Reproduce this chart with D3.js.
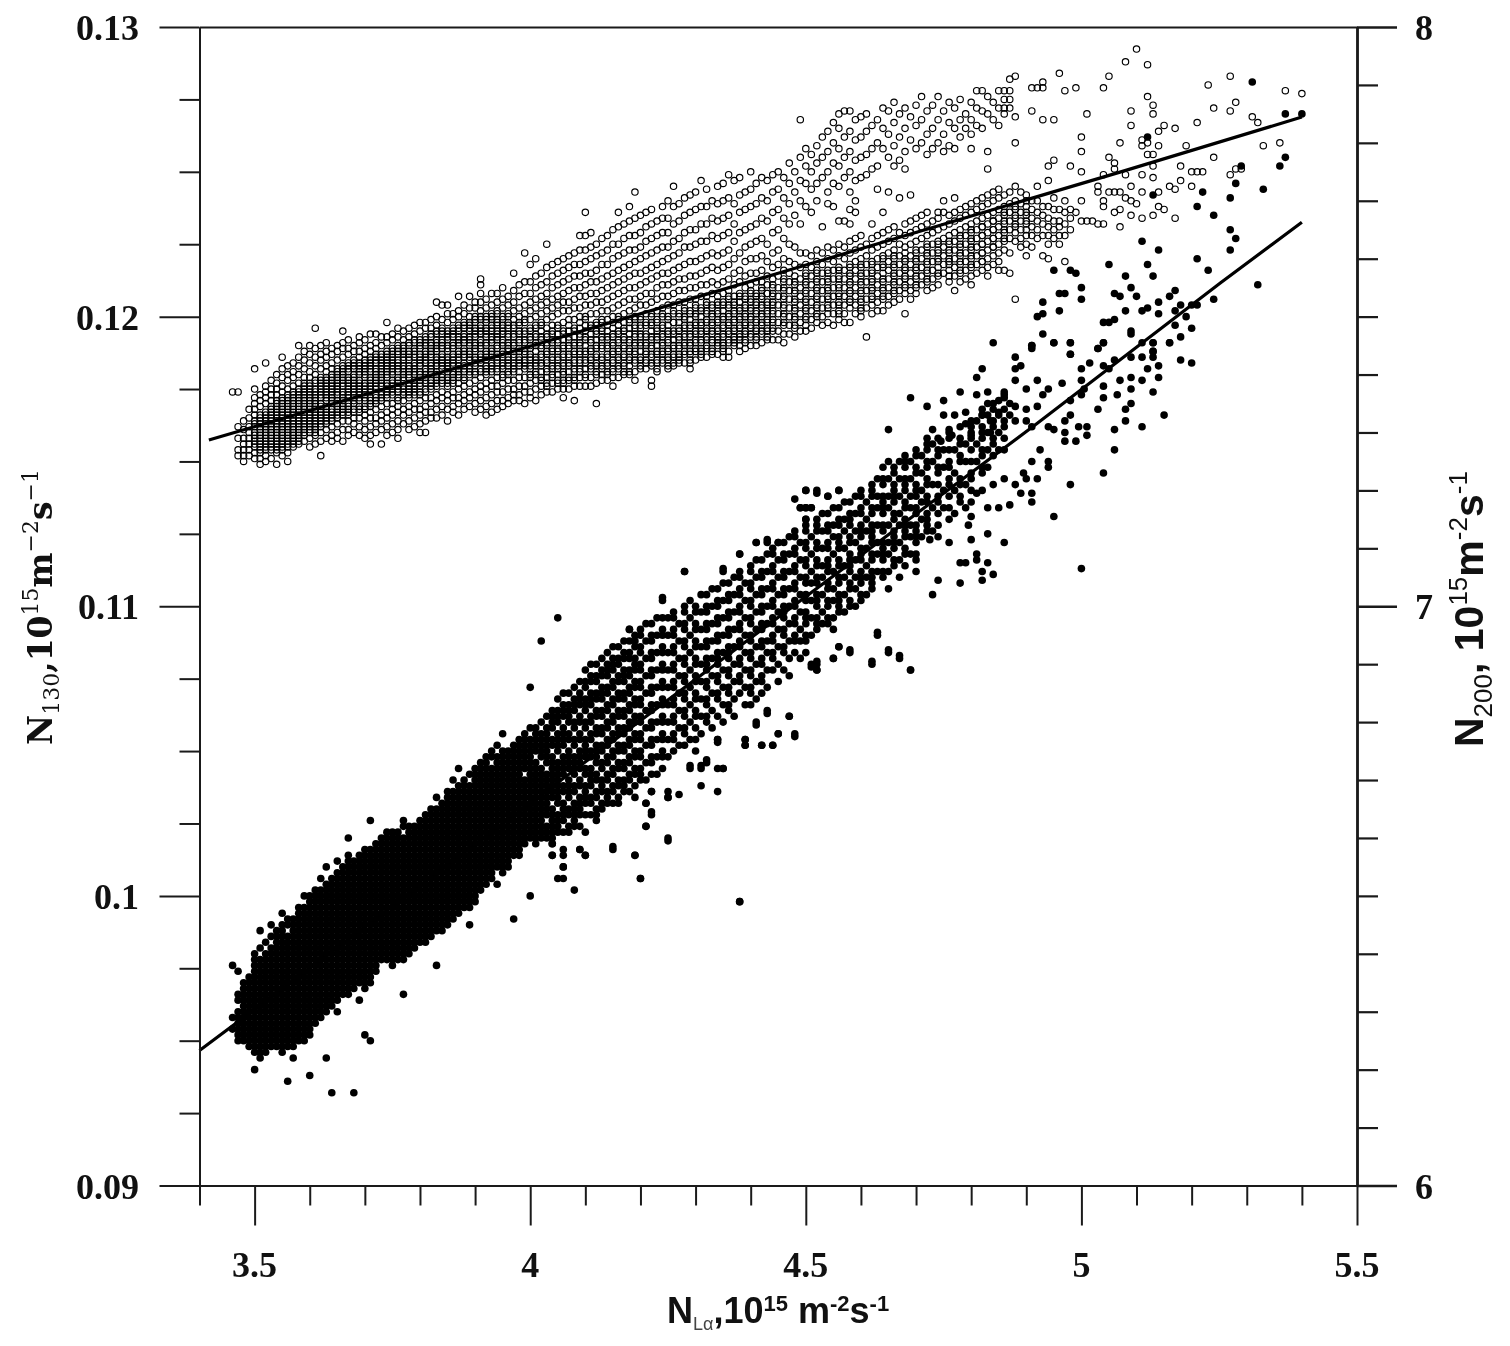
<!DOCTYPE html>
<html><head><meta charset="utf-8">
<script src="https://cdn.jsdelivr.net/npm/d3@7"></script>
<style>html,body{margin:0;background:#fff}svg{display:block;filter:blur(0.5px)}</style>
</head><body><svg id="c" width="1510" height="1346"></svg>
<script>
// N130 (left axis, open rings). Each row: first = N_Lalpha in 0.01, rest = N130 in 0.0001
const openRows35=[
[346,1174],[347,1174,1162,1158,1154,1152],[348,1164,1161,1158,1156,1154,1152,1150],[349,1168,1165,1162,1160,1158,1156,1154,1152],
[350,1182,1175,1172,1170,1168,1166,1164,1162,1160,1158,1157,1155,1153,1151],
[351,1173,1171,1169,1166,1164,1163,1161,1159,1158,1156,1155,1153,1151,1149],
[352,1184,1176,1174,1172,1170,1167,1165,1163,1162,1160,1159,1157,1156,1154,1152,1150],
[353,1178,1175,1173,1171,1168,1166,1165,1163,1161,1160,1158,1157,1155,1154,1151],
[354,1180,1177,1175,1173,1171,1169,1167,1165,1164,1162,1161,1159,1158,1156,1155,1153,1149],
[355,1186,1182,1179,1176,1174,1172,1170,1168,1166,1165,1163,1162,1160,1159,1157,1156,1154,1152],
[356,1183,1180,1178,1175,1173,1171,1169,1167,1166,1164,1163,1161,1160,1158,1157,1155,1153,1150],
[357,1184,1181,1179,1176,1174,1172,1170,1168,1167,1165,1164,1162,1161,1159,1157,1155],
[358,1190,1186,1183,1180,1177,1175,1173,1171,1169,1168,1166,1164,1163,1161,1160,1158,1156],
[359,1188,1185,1182,1179,1177,1175,1173,1171,1169,1167,1165,1163,1161,1159,1157],
[360,1190,1187,1184,1181,1179,1176,1174,1172,1170,1168,1166,1164,1162,1160,1158,1155],
[361,1196,1189,1186,1183,1180,1178,1175,1173,1171,1169,1167,1165,1163,1161,1159,1156],
[362,1190,1187,1185,1182,1179,1177,1175,1173,1170,1168,1166,1164,1162,1160,1157,1152],
[363,1191,1188,1186,1183,1181,1178,1176,1174,1172,1169,1167,1165,1163,1161,1158],
[364,1189,1187,1184,1182,1179,1177,1175,1173,1171,1168,1166,1164,1162,1159,1157],
[365,1190,1188,1185,1182,1180,1178,1176,1174,1171,1169,1167,1165,1163,1160,1158],
[366,1195,1191,1189,1186,1183,1181,1179,1177,1174,1172,1170,1168,1166,1164,1161,1157],
[367,1192,1189,1187,1184,1182,1179,1177,1175,1173,1170,1168,1166,1164,1161,1159],
[368,1190,1188,1185,1183,1180,1178,1176,1174,1172,1170,1167,1165,1163,1160],
[369,1193,1191,1188,1186,1183,1181,1178,1176,1174,1172,1169,1167,1165,1162,1159],
[370,1192,1189,1187,1184,1182,1180,1177,1175,1173,1171,1168,1166,1164,1161,1158],
[371,1194,1190,1188,1185,1183,1181,1178,1176,1174,1171,1169,1167,1165,1162,1159,1156],
[372,1194,1191,1189,1186,1184,1181,1179,1177,1175,1172,1170,1168,1165,1163,1160],
[373,1193,1190,1187,1185,1182,1180,1178,1176,1173,1171,1169,1166,1164,1161,1156],
[374,1198,1193,1191,1188,1186,1183,1181,1179,1176,1174,1172,1170,1167,1165,1162,1159],
[375,1194,1192,1189,1187,1184,1182,1180,1177,1175,1173,1170,1168,1166,1163,1160],
[376,1196,1193,1190,1188,1185,1183,1181,1178,1176,1174,1171,1169,1167,1164,1161,1158],
[377,1195,1192,1189,1187,1185,1182,1180,1178,1175,1173,1171,1168,1166,1163],
[378,1196,1193,1191,1188,1186,1183,1181,1179,1176,1174,1172,1169,1167,1164,1161],
[379,1197,1194,1192,1189,1187,1184,1182,1180,1177,1175,1173,1170,1168,1165,1162],
[380,1198,1195,1192,1190,1187,1185,1183,1180,1178,1176,1173,1171,1168,1166,1163,1160],
[381,1198,1196,1193,1191,1188,1186,1184,1181,1179,1177,1174,1172,1169,1167,1164,1160],
[382,1199,1196,1194,1191,1189,1187,1184,1182,1180,1177,1175,1172,1170,1167,1165],
[383,1205,1200,1197,1195,1192,1190,1188,1185,1183,1180,1178,1176,1173,1171,1168,1165],
[384,1204,1199,1196,1194,1191,1189,1186,1184,1182,1179,1177,1174,1172,1169,1166],
[385,1204,1201,1198,1195,1193,1190,1188,1185,1183,1181,1178,1176,1173,1171,1168,1164],
[386,1201,1199,1196,1194,1191,1189,1186,1184,1181,1179,1177,1174,1172,1169,1167],
[387,1207,1202,1200,1197,1195,1192,1190,1187,1185,1182,1180,1177,1175,1172,1170,1166],
[388,1204,1201,1198,1196,1193,1191,1188,1186,1183,1181,1178,1176,1173,1171,1168],
[389,1207,1203,1200,1197,1195,1192,1190,1187,1185,1182,1180,1177,1174,1172,1169],
[390,1205,1203,1200,1198,1195,1193,1190,1188,1185,1183,1180,1178,1175,1173,1170,1167],
[391,1213,1211,1208,1205,1202,1199,1196,1194,1191,1189,1186,1184,1181,1179,1176,1174,1171,1168],
[392,1206,1203,1200,1198,1195,1193,1190,1187,1185,1182,1180,1177,1175,1172,1169,1166],
[393,1208,1204,1201,1199,1196,1193,1191,1188,1186,1183,1181,1178,1176,1173,1170,1167],
[394,1208,1205,1202,1199,1197,1194,1192,1189,1186,1184,1181,1179,1176,1174,1171,1168],
[395,1210,1206,1203,1200,1197,1195,1192,1190,1187,1184,1182,1179,1177,1174,1171,1169]];
const openRows40=[
[396,1207,1204,1201,1198,1196,1193,1190,1188,1185,1183,1180,1178,1175,1172,1170],
[397,1215,1209,1205,1202,1199,1196,1194,1191,1188,1186,1183,1181,1178,1175,1173,1171],
[398,1211,1207,1203,1200,1197,1194,1191,1189,1186,1184,1181,1179,1176,1173,1171],
[399,1222,1212,1208,1204,1201,1198,1195,1192,1189,1187,1184,1182,1179,1176,1174,1170],
[400,1218,1212,1208,1205,1202,1199,1196,1193,1190,1187,1185,1182,1180,1177,1174,1172],
[401,1220,1214,1210,1206,1203,1200,1197,1194,1191,1188,1185,1183,1180,1178,1175,1171],
[402,1215,1211,1207,1204,1201,1198,1195,1192,1189,1186,1184,1181,1178,1176,1173],
[403,1225,1217,1212,1208,1205,1202,1199,1196,1193,1190,1187,1184,1182,1179,1176,1174],
[404,1218,1214,1210,1206,1203,1200,1197,1194,1191,1188,1185,1182,1180,1177,1174],
[405,1219,1215,1211,1207,1204,1201,1197,1194,1191,1188,1185,1183,1180,1177,1175],
[406,1220,1216,1212,1208,1205,1202,1198,1195,1192,1189,1186,1183,1181,1178,1175,1172],
[407,1221,1217,1213,1209,1205,1202,1199,1195,1192,1189,1186,1184,1181,1178,1175],
[408,1222,1218,1214,1210,1206,1203,1199,1196,1193,1190,1187,1184,1181,1179,1176,1171],
[409,1228,1223,1218,1214,1210,1207,1203,1200,1196,1193,1190,1187,1184,1182,1179,1176],
[410,1236,1228,1223,1219,1215,1211,1207,1204,1200,1197,1193,1190,1187,1185,1182,1179,1176],
[411,1229,1224,1220,1215,1212,1208,1204,1201,1197,1194,1191,1188,1185,1182,1179,1176],
[412,1225,1221,1216,1212,1208,1205,1201,1198,1195,1192,1189,1186,1183,1180,1177,1170],
[413,1227,1222,1218,1213,1209,1205,1202,1198,1195,1192,1189,1186,1183,1180,1178],
[414,1228,1223,1218,1214,1210,1206,1202,1199,1195,1192,1189,1187,1184,1181,1178],
[415,1230,1225,1220,1215,1211,1207,1203,1200,1196,1193,1190,1187,1184,1182,1179,1176],
[416,1236,1231,1225,1221,1216,1212,1208,1204,1200,1197,1194,1191,1188,1185,1182,1179],
[417,1232,1227,1222,1217,1213,1209,1205,1201,1198,1195,1192,1189,1186,1183,1180],
[418,1238,1233,1228,1223,1218,1214,1210,1206,1202,1199,1196,1192,1189,1186,1183,1180],
[419,1243,1234,1228,1223,1219,1215,1210,1206,1203,1199,1196,1193,1190,1187,1184,1181,1178],
[420,1235,1229,1224,1220,1215,1211,1207,1204,1200,1197,1194,1191,1188,1185,1182],
[421,1236,1231,1226,1221,1216,1212,1208,1204,1201,1198,1194,1191,1188,1185,1182],
[422,1237,1232,1227,1222,1217,1213,1208,1205,1201,1198,1195,1192,1189,1186,1183,1176,1178],
[423,1233,1228,1223,1218,1214,1210,1206,1202,1199,1196,1193,1190,1187,1184,1181],
[424,1238,1234,1229,1224,1219,1215,1211,1207,1203,1200,1196,1193,1190,1187,1184],
[425,1240,1234,1229,1224,1220,1215,1211,1207,1204,1200,1197,1194,1191,1188,1185,1182],
[426,1245,1238,1232,1226,1221,1216,1212,1208,1204,1201,1198,1195,1192,1189,1186,1183],
[427,1239,1233,1227,1222,1217,1213,1209,1205,1201,1198,1195,1192,1189,1186,1184],
[428,1241,1235,1229,1224,1218,1213,1209,1205,1202,1199,1196,1193,1190,1187,1184],
[429,1242,1236,1230,1224,1219,1214,1210,1206,1202,1199,1196,1193,1190,1187,1184,1182],
[430,1243,1237,1230,1225,1219,1214,1210,1206,1203,1200,1197,1194,1191,1188,1185],
[431,1247,1238,1232,1226,1220,1215,1211,1207,1203,1200,1197,1194,1191,1188,1186],
[432,1244,1238,1232,1226,1221,1216,1211,1207,1204,1201,1198,1195,1192,1189,1186],
[433,1240,1234,1228,1222,1217,1212,1208,1204,1201,1198,1195,1192,1189,1187],
[434,1245,1239,1233,1227,1221,1216,1211,1207,1204,1201,1198,1195,1192,1190,1187],
[435,1246,1240,1234,1228,1222,1217,1212,1208,1205,1202,1199,1196,1193,1190,1188,1186],
[436,1249,1241,1235,1229,1223,1218,1213,1209,1206,1203,1200,1197,1194,1191,1188,1186],
[437,1247,1239,1232,1226,1220,1215,1211,1207,1204,1201,1198,1195,1192,1190],
[438,1248,1242,1236,1229,1222,1216,1212,1208,1205,1202,1199,1196,1193,1190,1188],
[439,1243,1237,1230,1224,1219,1214,1210,1207,1204,1201,1198,1195,1192,1189],
[440,1250,1244,1238,1231,1225,1220,1215,1211,1208,1205,1202,1199,1196,1193,1190],
[441,1246,1239,1232,1226,1220,1215,1212,1208,1205,1202,1199,1196,1193,1190],
[442,1248,1241,1234,1227,1221,1216,1212,1209,1206,1203,1200,1197,1194,1191],
[443,1247,1240,1233,1225,1219,1214,1211,1208,1205,1202,1199,1196,1193],
[444,1249,1243,1236,1229,1222,1217,1213,1210,1207,1204,1201,1198,1195,1192],
[445,1250,1244,1237,1230,1223,1218,1214,1210,1207,1204,1201,1198,1195,1192],
[446,1248,1241,1234,1227,1220,1216,1212,1209,1206,1203,1200,1197,1194,1191],
[447,1253,1246,1239,1232,1225,1219,1215,1212,1209,1206,1203,1200,1197,1194],
[448,1250,1243,1235,1224,1218,1214,1211,1208,1205,1202,1199,1196,1193],
[449,1268,1255,1247,1240,1232,1222,1217,1213,1210,1207,1204,1201,1198,1195],
[450,1258,1252,1246,1238,1222,1218,1215,1212,1209,1206,1203,1200,1197,1195]];
const openRows45=[
[451,1256,1250,1244,1236,1221,1217,1214,1211,1208,1205,1202,1199,1196],
[452,1259,1253,1246,1240,1223,1219,1216,1213,1210,1207,1204,1201,1198],
[453,1262,1255,1248,1231,1222,1218,1215,1212,1209,1206,1203,1200,1197],
[454,1264,1257,1250,1243,1239,1224,1220,1216,1213,1210,1207,1204,1201,1198],
[455,1267,1260,1253,1246,1238,1223,1219,1216,1213,1210,1207,1204,1201,1197],
[456,1270,1265,1258,1252,1245,1233,1225,1221,1217,1214,1211,1208,1205,1202,1199],
[457,1271,1262,1255,1248,1233,1224,1220,1216,1213,1210,1207,1204,1201,1198],
[458,1271,1264,1257,1250,1243,1237,1232,1226,1222,1218,1215,1212,1209,1206,1203,1198],
[459,1268,1261,1254,1247,1240,1236,1227,1223,1219,1216,1213,1210,1207,1204,1201],
[460,1269,1262,1255,1248,1228,1224,1220,1217,1214,1211,1208,1205,1202,1200],
[461,1270,1264,1256,1249,1225,1221,1218,1215,1212,1209,1206,1203,1193],
[462,1266,1258,1251,1232,1227,1223,1219,1216,1213,1210,1207,1204,1201],
[463,1268,1260,1252,1244,1228,1224,1220,1217,1214,1211,1208,1205,1202],
[464,1272,1265,1258,1236,1229,1225,1221,1218,1215,1212,1209,1206,1202],
[465,1271,1263,1255,1243,1230,1226,1222,1219,1216,1213,1210,1207,1204],
[466,1274,1267,1259,1252,1231,1227,1223,1220,1217,1214,1211,1208,1205],
[467,1270,1262,1254,1241,1229,1225,1221,1218,1215,1212,1209,1206],
[468,1272,1265,1257,1251,1232,1228,1224,1220,1217,1214,1211,1208,1201],
[469,1269,1261,1242,1233,1229,1225,1221,1218,1215,1212,1209,1206],
[470,1273,1266,1258,1234,1230,1226,1222,1219,1216,1213,1210,1208],
[471,1276,1268,1260,1235,1231,1227,1223,1220,1217,1214,1211],
[472,1271,1263,1256,1236,1232,1228,1224,1221,1218,1215,1212,1209],
[473,1273,1265,1258,1233,1229,1225,1222,1219,1216,1213,1210],
[474,1276,1268,1260,1236,1234,1230,1226,1223,1220,1217,1214,1211],
[475,1271,1263,1257,1240,1236,1231,1227,1224,1221,1218,1215],
[476,1274,1267,1259,1235,1232,1228,1225,1222,1219,1216,1212],
[477,1272,1265,1258,1241,1236,1233,1229,1226,1223,1220,1217,1214,1209],
[478,1275,1268,1262,1237,1234,1230,1227,1224,1221,1218,1215,1212],
[479,1270,1265,1238,1235,1231,1228,1225,1222,1219,1216,1213],
[480,1274,1268,1263,1258,1239,1236,1232,1229,1226,1223,1220,1217,1214,1211],
[481,1278,1272,1266,1240,1237,1233,1230,1227,1224,1221,1218,1215],
[482,1278,1271,1265,1241,1238,1234,1231,1228,1225,1222,1219,1216],
[483,1276,1270,1257,1251,1242,1239,1235,1232,1229,1226,1223,1220,1217,1214],
[484,1274,1268,1243,1240,1236,1233,1230,1227,1224,1221,1218],
[485,1278,1272,1266,1244,1241,1237,1234,1231,1228,1225,1222,1219,1216],
[486,1278,1275,1272,1270,1242,1238,1235,1232,1229,1226,1223,1216],
[487,1282,1278,1275,1272,1243,1239,1236,1233,1230,1227,1222,1215],
[488,1283,1269,1260,1245,1240,1237,1234,1231,1226,1206],
[489,1243,1239,1236,1233,1230,1227,1224],
[490,1242,1238,1235,1232,1228,1225,1221],
[491,1279,1271,1240,1237,1234,1231,1228,1224],
[492,1279,1245,1240,1236,1233,1230,1227],
[493,1281,1279,1268,1238,1235,1232,1228,1221],
[494,1252,1247,1238,1234,1231,1228,1225,1220],
[495,1268,1254,1241,1237,1233,1230,1227],
[496,1284,1237,1233,1231,1228,1225],
[497,1278,1240,1236,1232,1228,1219],
[498,1252,1237,1234,1230]];
// Second reading of the crowded part of the N130 cloud
const openExtra=[
[350,1163,1159,1156],[351,1165,1162,1160,1157,1154],[352,1166,1164,1161,1158,1155],[353,1169,1167,1164,1162,1159,1156],[354,1170,1168,1166,1163,1160,1157,1154],
[355,1171,1169,1167,1164,1161,1158,1155],[356,1172,1170,1168,1165,1162,1159,1156],[357,1173,1171,1169,1166,1163,1160,1158,1156],[358,1174,1172,1170,1167,1165,1162,1159,1157],[359,1176,1174,1172,1170,1168,1166,1164,1162,1160],
[360,1177,1175,1173,1171,1169,1167,1165,1163,1161],[361,1177,1174,1172,1170,1168,1166,1164,1162,1160],[362,1178,1176,1174,1172,1169,1167,1165,1163],[363,1179,1177,1175,1173,1171,1168,1166,1164],[364,1180,1178,1176,1174,1172,1170,1167,1165],
[365,1181,1179,1177,1175,1173,1170,1168,1166],[366,1182,1180,1178,1176,1173,1171,1169,1167],[367,1183,1181,1178,1176,1174,1172,1169,1167],[368,1184,1182,1179,1177,1175,1173,1171,1168],[369,1184,1182,1180,1177,1175,1173,1171,1168],
[370,1185,1183,1181,1179,1176,1174,1172,1169],[371,1186,1184,1182,1179,1177,1175,1172,1170],[372,1187,1185,1182,1180,1178,1176,1173,1171],[373,1186,1184,1183,1181,1179,1177,1174,1172],[374,1187,1185,1184,1182,1180,1177,1175,1173],
[375,1188,1186,1185,1183,1181,1178,1176,1174],[376,1189,1187,1184,1182,1179,1177,1175,1172],[377,1190,1188,1186,1183,1181,1179,1176,1174],[378,1190,1187,1185,1182,1180,1177,1175,1173],[379,1191,1188,1186,1183,1181,1178,1176,1174],
[380,1191,1189,1186,1184,1181,1179,1177,1174],[381,1192,1190,1187,1185,1182,1180,1178,1175],[382,1193,1190,1188,1186,1183,1181,1178,1176],[383,1194,1191,1189,1186,1184,1181,1179,1177],[384,1195,1192,1190,1187,1185,1183,1180,1178],
[385,1194,1192,1189,1186,1184,1182,1179,1177],[386,1195,1193,1190,1187,1185,1183,1180,1178],[387,1196,1193,1191,1188,1186,1183,1181,1179],[388,1197,1194,1192,1189,1187,1184,1182,1179],[389,1198,1196,1193,1191,1188,1186,1183,1181],
[390,1199,1196,1194,1191,1189,1186,1184,1181],[391,1200,1197,1195,1192,1190,1187,1185,1182],[392,1199,1196,1194,1191,1188,1186,1183,1181],[393,1200,1197,1195,1192,1189,1187,1184,1182],[394,1201,1198,1195,1193,1190,1187,1185,1182],
[395,1199,1196,1194,1191,1188,1186,1183,1180],[396,1200,1197,1194,1191,1189,1186,1184,1181],[397,1197,1193,1190,1187,1184,1182],[398,1198,1195,1192,1188,1185,1183],[399,1199,1194,1191,1188,1185,1183],
[400,1195,1192,1189,1186,1183,1179],[401,1196,1193,1190,1186,1184,1181],[402,1197,1193,1190,1187,1183,1179],[403,1194,1191,1188,1185,1181,1177],[404,1195,1192,1189,1186,1183,1179],
[405,1196,1192,1189,1186,1182,1178],[406,1194,1190,1187,1184,1180,1177],[407,1197,1193,1190,1187,1183,1179],[408,1195,1191,1188,1185,1182,1178],[409,1198,1194,1191,1188,1185,1181],
[410,1199,1195,1192,1188,1184,1180],[411,1196,1192,1189,1186,1183],[412,1197,1194,1190,1187,1184,1181],[413,1199,1196,1193,1190,1185,1182],[414,1197,1193,1190,1186,1183,1180],
[415,1198,1194,1191,1188,1185,1181],[416,1199,1195,1192,1189,1186,1183],[417,1196,1193,1190,1187,1184,1181],[418,1198,1194,1191,1188,1185,1181],[419,1200,1197,1194,1191,1188,1185],
[420,1199,1196,1193,1190,1186,1183],[421,1197,1193,1190,1187,1184],[422,1200,1197,1193,1190,1187,1184],[423,1198,1195,1192,1188,1185,1182],[424,1201,1197,1194,1191,1188,1185],
[425,1199,1195,1192,1189,1186,1183],[426,1202,1198,1194,1190,1187,1184],[427,1200,1196,1193,1190,1187,1185],[428,1203,1200,1197,1194,1191,1188],[429,1201,1197,1194,1191,1188,1185],
[430,1204,1201,1198,1195,1192,1189],[431,1202,1198,1195,1192,1189,1187],[432,1205,1202,1199,1196,1193,1190],[433,1203,1200,1197,1194,1191,1188],[434,1205,1202,1199,1196,1193,1191],
[435,1204,1200,1197,1194,1191,1189],[436,1207,1204,1201,1198,1195,1192],[437,1205,1202,1199,1196,1193,1191],[438,1207,1203,1200,1197,1194,1192],[439,1206,1203,1200,1197,1194,1191],
[440,1209,1206,1203,1200,1197,1194],[441,1207,1204,1201,1198,1195,1192],[442,1210,1207,1204,1201,1198,1195],[443,1208,1204,1201,1198,1195,1192],[444,1211,1208,1205,1202,1199,1196],
[446,1213,1210,1207,1204,1201,1198],[448,1212,1209,1206,1203,1200,1197],[450,1214,1211,1208,1205,1202,1199],[452,1215,1212,1209,1206,1203,1200],[454,1215,1212,1209,1206,1203],
[456,1216,1213,1210,1207,1204,1201],[458,1217,1214,1211,1208,1205],[460,1218,1215,1212,1209,1206,1203],[462,1218,1215,1212,1209,1206],[464,1220,1217,1213,1210,1207],
[466,1221,1218,1215,1212,1209],[468,1222,1219,1216,1213,1210],[470,1223,1220,1217,1214,1211],[472,1225,1222,1219,1216,1213],[474,1225,1222,1219,1215],
[476,1226,1223,1220,1218,1214],[478,1228,1225,1222,1219,1216],[480,1230,1227,1224,1221,1218],[482,1231,1228,1225,1222,1219],[484,1233,1230,1227,1224],[486,1236,1233,1230,1227],[488,1238,1235,1232,1229],[490,1240,1236,1233,1230]];
const openSparseX=[4.99,4.99,5.0,5.0,5.0,5.0,5.0,5.01,5.01,5.02,5.03,5.03,5.03,5.04,5.04,5.04,5.04,5.04,5.05,5.05,5.05,5.06,5.06,5.06,5.06,5.07,5.07,5.07,5.07,5.08,5.08,5.08,5.09,5.09,5.09,5.09,5.09,5.10,5.10,5.11,5.11,5.11,5.11,5.11,5.12,5.12,5.12,5.12,5.13,5.13,5.13,5.13,5.13,5.13,5.14,5.14,5.14,5.14,5.15,5.15,5.16,5.17,5.17,5.17,5.18,5.18,5.19,5.20,5.20,5.21,5.21,5.22,5.23,5.24,5.24,5.27,5.27,5.27,5.28,5.28,5.29,5.31,5.32,5.33,5.36,5.37,5.40];
const openSparseY=[1279,1236,1262,1257,1250,1240,1233,1270,1233,1233,1245,1243,1232,1279,1249,1240,1238,1232,1283,1243,1255,1253,1251,1243,1236,1260,1243,1237,1231,1288,1249,1241,1271,1266,1245,1240,1235,1292.4,1239,1261,1259,1249,1243,1234,1287,1276,1260,1256,1273,1270,1256,1252,1248,1235,1264,1259,1243,1238,1266,1237,1245,1265,1244,1234,1252,1247,1259,1250,1245,1267,1250,1250,1280,1272,1255,1283,1271,1249,1274,1251,1251,1269,1267,1259,1260,1278,1277];
// N200 (right axis, filled dots). Each row: first = N_Lalpha in 0.01, rest = N200 in 0.01
const filledRows35=[
[346,638,629,627],[347,637,632,630,628,626,625],[348,634,632,631,629,628,626,625],[349,636,634,632,630,629,627,626,624],
[350,640,638,636,634,633,631,630,628,627,625,623,620],[351,644,639,637,635,634,632,630,629,627,626,624,622],
[352,640,638,637,635,633,632,630,628,627,625,623],[353,645,641,639,637,636,634,632,631,629,628,626,624],
[354,643,641,639,638,636,634,633,631,629,628,626,624],[355,647,644,642,640,639,637,635,634,632,630,629,627,625,623],
[356,646,643,641,640,638,636,634,633,631,629,628,626,624,618],[357,645,644,642,640,638,637,635,633,632,630,628,627,625,622],
[358,647,645,643,641,640,638,636,634,633,631,630,628,626,625],[359,650,647,645,644,642,640,639,637,635,634,632,630,629,627,625],
[360,650,648,646,644,643,641,640,638,636,635,633,632,630,628,626,619],[361,651,649,647,645,644,642,641,639,637,636,634,633,631,629,628],
[362,653,650,648,646,645,643,642,640,639,637,635,634,632,630,629],[363,655,651,649,648,646,645,643,642,640,638,637,635,634,632,630,622],
[364,652,650,649,647,646,644,642,641,639,638,636,635,633,631,616],[365,656,653,651,650,648,646,645,643,642,640,638,637,635,634,632,630],
[366,654,652,650,649,647,645,644,642,641,639,638,636,634,633],[367,660,657,655,653,651,650,648,646,645,643,641,640,638,636,635,633],
[368,656,654,652,651,649,647,646,644,643,641,639,638,636,634,616],[369,657,655,653,652,650,648,647,645,644,642,640,639,637,635,632],
[370,658,656,654,652,651,649,648,646,644,643,641,640,638,636,634,626],[371,663,658,656,655,653,651,650,648,646,645,643,642,640,638,637,635,625],
[372,659,657,655,654,652,650,649,647,646,644,642,641,639,637],[373,660,658,657,655,653,652,650,648,647,645,644,642,640,639],
[374,661,659,657,656,654,652,651,649,647,646,644,643,641,639],[375,661,659,658,656,654,653,651,650,648,646,645,643,641,640,638],
[376,660,658,657,655,653,652,650,648,647,645,644,642,640,639],[377,663,660,659,657,656,654,652,651,649,648,646,644,643,641,639,633],
[378,661,659,658,656,655,653,651,650,648,646,645,643,642,640],[379,662,660,659,657,655,654,652,651,649,647,646,644,643,641],
[380,662,661,659,658,656,654,653,651,650,648,646,645,643,642],[381,663,662,660,658,657,655,654,652,650,649,647,646,644,642],
[382,664,662,661,659,657,656,654,653,651,650,648,646,645,643],[383,667,664,663,661,660,658,656,655,653,652,650,648,647,645,644,638],
[384,665,664,662,660,659,657,656,654,652,651,649,648,646,644],[385,668,666,665,663,661,660,658,656,655,653,652,650,648,647,645],
[386,670,667,665,664,662,660,659,657,655,654,652,651,649,647,646],[387,672,668,666,665,663,661,660,658,656,655,653,652,650,648,647],
[388,669,667,665,664,662,661,659,657,656,654,653,651,649,648],[389,671,668,667,665,663,662,660,658,657,655,653,652,650,648,645],
[390,672,670,668,666,665,663,662,660,658,657,655,654,652,650,649],[391,673,671,669,667,666,664,663,661,659,658,656,654,653,651],
[392,674,672,670,668,667,665,664,662,660,659,657,655,654,652],[393,675,672,671,669,668,666,664,663,661,660,658,656,655,653],
[394,676,673,672,670,668,667,665,664,662,660,659,657,656,652],[395,678,674,673,671,669,667,666,664,663,661,659,658,656,654]];
const filledRows40=[
[396,674,672,670,668,667,665,664,662,660,658,657,655],[397,675,673,671,669,668,666,664,662,661,659,657,646],
[398,676,674,672,670,668,667,665,663,661,659,658],[399,677,675,673,670,669,667,665,663,661,659],
[400,686,679,676,674,672,670,668,666,664,662,660,650],[401,678,676,673,671,669,667,665,663,661,659],
[402,694,680,677,675,672,670,668,666,664,662,660],[403,681,678,676,674,671,669,667,665,662,660],
[404,682,680,677,674,672,670,668,665,663,661,659,657],[405,698,684,681,678,676,673,671,668,666,663,661,653],
[406,685,682,679,677,674,672,669,666,664,661,658,655,653],[407,683,681,678,675,673,670,668,665,662],
[408,686,683,680,677,674,672,669,666,664,662,651],[409,687,684,681,678,675,673,670,667,665,662,658],
[410,689,686,683,680,677,675,672,669,667,664,661,657],[411,690,687,684,681,678,675,672,670,667,664],
[412,688,685,682,679,676,674,671,668,665,663],[413,691,688,685,682,679,676,673,670,668,665],
[414,692,689,686,683,680,677,674,671,668,666],[415,693,690,687,684,681,678,675,672,669,666,658],
[416,691,688,685,682,679,676,673,670,667],[417,694,691,688,685,682,679,676,673,670,668],
[418,696,692,689,686,683,680,677,674,671,668],[419,695,693,690,687,684,681,678,675,672,669,667,657],
[420,696,693,690,687,684,681,678,675,672,670,653],[421,697,694,691,688,685,682,679,676,673,670,666,662],
[422,695,692,689,686,683,680,677,674,671,668,664],[423,698,695,692,689,686,683,680,677,674,671],
[424,701,696,693,690,687,684,681,678,675,672],[425,698,695,692,689,686,683,680,677,674,668,667,660],
[426,699,696,693,690,687,684,681,678,675],[427,697,694,691,688,685,682,679,676],
[428,706,700,697,694,691,688,685,682,679,676],[429,701,698,695,692,689,686,683,680,677,672],
[430,700,697,694,691,688,685,682,679,677,675],[431,702,699,696,693,690,687,684,681,678,672,669],
[432,700,697,694,691,689,686,683,680,673],[433,703,700,697,694,691,688,685,682,679],
[434,701,698,695,692,690,687,684,681,677,672,668],[435,706,704,701,698,695,692,689,686,683,680,672],
[436,702,699,696,693,691,688,685,682],[437,705,702,699,696,693,690,687,684,681],
[438,709,706,703,700,697,694,691,688,685,649],[439,704,701,698,695,692,689,686,683,677,676],
[440,707,704,701,698,695,692,689,686,683],[441,711,708,705,702,699,696,693,690,687,684,680],
[442,706,703,700,697,694,691,688,685,676],[443,711,709,706,703,700,697,694,692,689,686,682],
[444,710,707,704,701,698,695,692,689,676],[445,711,708,705,702,699,696,693,690,687,678],
[446,709,706,703,700,698,695,692,689],[447,712,709,706,703,700,697,694,691,688,681],
[448,713,710,707,704,701,698,695,692,678],[449,717,711,708,705,702,699,696,694,691],
[450,720,717,715,714,711,708,705,702,699,697,694,692],[451,717,712,709,706,704,701,698,695,690],
[452,720,715,713,710,707,704,701,698,696,690,689],[453,716,713,710,707,705,702,699,697],
[454,719,714,711,708,706,703,700,697],[455,717,714,712,709,706,703,701,698,696,691],
[456,720,715,712,710,707,704,701,699,693],[457,718,715,713,710,707,705,702,699],
[458,716,714,711,708,706,703,700,692],[459,719,716,713,711,708,705,703,700],
[460,720,717,714,712,709,706,704,701],[461,718,715,713,710,707,705,702],
[462,721,719,716,713,711,708,705,703,690],[463,722,719,717,714,711,709,706,695],
[464,724,721,718,716,713,710,708,705],[465,725,722,719,717,714,711,709,706,703,692],
[466,723,720,718,715,712,710,707],[467,725,722,719,716,714,711,708,705,691],
[468,726,724,721,718,715,713,710,707],[469,725,722,719,717,714,712,709,689],
[470,727,724,721,719,716,713,711,708],[471,726,723,720,718,715,712],[472,727,724,722,719,716,714],
[473,728,725,721,717,713],[474,726,723,719,716,712],[475,727,724,720,717],[476,729,725,722,719,715],
[477,727,723,720,716],[478,729,726,722,719],[479,728,725,721,717],[480,730,727,723,720],
[481,732,728,725],[482,731,729,726,723],[483,733,730,727,724],[484,735,731,728],[485,733,730,727],[486,736,732,729],[487,735,733]];
// Second reading of the crowded part of the N200 cloud
const filledExtra=[
[347,633,629,627],[348,635,633,630,627],[349,635,633,631,628,625],[350,639,637,635,632,629,626,624],[351,641,638,636,633,631,628,625,623],
[352,642,639,636,634,631,629,626,624],[353,643,640,638,635,633,630,627,625],[354,644,642,640,637,635,632,630,627,625],[355,645,643,641,638,636,633,631,628,626,624],[356,645,642,639,637,635,632,630,627,625],
[357,646,643,641,639,636,634,631,629,626,624],[358,648,646,644,642,639,637,635,632,629,627],[359,648,646,643,641,638,636,633,631,628,626],[360,649,647,645,642,639,637,634,631,629,627],[361,650,648,646,643,640,638,635,632,630],
[362,651,649,647,644,641,638,636,633,631],[363,652,650,647,644,641,639,636,633,631],[364,653,651,648,645,643,640,637,634,632],[365,654,652,649,647,644,641,639,636,633],[366,655,653,651,648,646,643,640,637,635],
[367,656,654,652,649,647,644,642,639,637,634],[368,655,653,650,648,645,642,640,637,635],[369,656,654,651,649,646,643,641,638,636],[370,657,655,653,650,647,645,642,639,637,635],[371,657,654,652,649,647,644,641,639,636],
[372,658,656,653,651,648,645,643,640,638],[373,659,656,654,651,649,646,643,641],[374,660,658,655,653,650,648,645,642,640],[375,660,657,655,652,649,647,644,642,639],[376,661,659,656,654,651,649,646,643,641],
[377,662,658,655,653,650,647,645,642,640],[378,662,660,657,654,652,649,647,644,641],[379,661,658,656,653,650,648,645,642],[380,663,660,657,655,652,649,647,644],[381,664,661,659,656,653,651,648,645,643],
[382,665,663,660,658,655,652,649,647,644],[383,665,662,659,657,654,651,649,646],[384,666,663,661,658,655,653,650,647,645],[385,667,664,662,659,657,654,651,649,646],[386,668,666,663,661,658,656,653,650,648],
[387,669,667,664,662,659,657,654,651,649],[388,670,668,666,663,660,658,655,652,650],[389,669,666,664,661,659,656,654,651,649],[390,671,669,667,664,661,659,656,653,651],[391,672,670,668,665,662,660,657,655,652],
[392,673,671,669,666,663,661,658,656,653],[393,674,670,667,665,662,659,657,654],[394,674,671,669,666,663,661,658,655],[395,675,672,670,668,665,662,660,657,655],[396,675,673,671,669,666,663,661,659,656],
[397,676,674,672,670,667,665,663,660,658],[398,677,675,673,671,669,666,664,662,660,657],[399,678,676,674,672,668,666,664,662,660],[400,677,675,673,671,669,667,665,663,661],[401,679,677,675,672,670,668,666,664,662,660],
[402,678,676,674,671,669,667,665,663,661],[403,679,677,675,673,670,668,666,664,661],[404,681,679,676,673,671,669,667,664,662,660],[405,682,680,677,675,672,670,669,667,664,662],[406,683,681,678,676,673,671,668,665,663],
[407,685,682,680,677,674,672,669,667,664,661],[408,684,682,679,676,673,671,668,665,663],[409,685,683,680,677,674,672,669,666,664],[410,687,684,682,679,676,674,671,668,666],[411,688,685,683,680,677,674,671,669,666],
[412,690,687,684,681,678,675,673,670,667,664],[413,689,686,684,681,678,675,672,669,666],[414,690,688,685,682,679,676,673,670,667],[415,691,689,686,683,680,677,674,671,668],[416,693,690,687,684,681,678,675,672,669,666],
[417,692,689,687,684,681,678,675,672,669],[418,694,691,688,685,682,679,676,673,670],[419,694,691,689,686,683,680,677,674,671],[420,695,692,689,686,683,680,677,674,671],[422,697,694,691,688,685,682,679,676,673],
[424,698,695,692,689,686,683,680,677,674],[426,698,695,692,689,686,683,680,677],[428,699,696,693,690,687,684,681,678],[430,699,696,693,690,687,684,681],[432,702,699,696,693,690,687,684,681],
[434,703,700,697,694,691,688,685],[436,704,701,698,695,692,689,686,683],[438,705,702,699,696,693,690,687],[440,706,703,700,697,694,691,688,685],[442,708,705,702,699,696,693,690,687],
[444,709,706,703,700,697,694,691],[446,711,708,705,702,699,696,693],[448,712,709,706,703,700,697,694],[450,713,710,707,704,701,698,695],[452,714,711,708,705,702,700,697],[454,716,713,710,707,704,701,698],[456,717,714,711,708,705,702,700],[458,718,715,712,709,707,704,701],[460,719,716,713,710,708,705,702],[462,720,717,714,712,709,706,704],[464,722,719,717,714,711,709,706],[466,724,721,719,716,713,711,708],[468,725,722,720,717,714,712,709],[470,726,723,720,717,714,712,709],[472,728,725,721,718,715,713],[474,729,727,724,721,718,714],[476,730,727,724,721,717],[478,731,728,725,721,718],[480,732,729,725,722,718],[482,733,730,727,724],[484,734,732,729,726],[486,737,734,731,727]];
const filledSparseX=[5.31,5.37,5.40,5.12,5.37,5.36,5.29,5.28,5.33,5.13,5.22,5.27,5.21,5.24,5.27,5.28,5.27,5.11,5.14,5.21,5.23,5.32,5.24,5.05,5.12,5.08,5.13,4.95,4.98,4.99,5.00,5.09,4.96,4.97,5.00,5.06,5.07,5.10,5.17,5.16,4.93,5.14,5.21,5.20,5.18,4.96,4.93,4.92,5.08,5.11,5.12,5.14,5.17,5.19,5.04,5.05,5.06,5.17,4.93,5.09,5.20,4.95,4.98,4.91,4.91,5.04,5.03,5.11,5.13,5.16,5.18,4.98,5.13,5.18,5.20,4.84,4.91,4.95,4.98,4.98,4.88,4.89,4.88,4.82,4.81,4.88,4.92,4.965,4.78,4.83,4.69,4.75,4.72,4.86,4.90,4.93,4.94,4.81,4.83,4.85,4.88,4.90,4.92,4.75,4.77,4.79,4.85,4.82,4.82,4.88,4.90,4.91,4.65,4.73,4.76,4.79,4.80,4.835,4.72,4.745,4.765,4.80,4.835,4.94,4.97,4.995,5.01,4.95,4.97,4.97,4.99,5.01,5.06,5.11,5.08,5.15,5.06,5.04,4.98,4.95,5.00,5.03,5.04,5.065,5.09,5.08,5.04,5.07,5.09,5.09,5.11,5.12,5.11,5.14,5.13,5.14,5.16,5.13,5.13,5.13,5.09,5.06,5.05,5.00,5.00,5.005,5.015,5.04,5.00,4.98,4.98,5.03,5.04,5.09,4.92,4.91,4.91,4.89,4.87,4.85,4.83,4.94,4.94,4.925,4.91,4.895,4.90,4.88,4.86,4.84,4.82,4.81,4.795,4.80,4.83,4.86,4.80,4.76,4.725,4.81,4.81,4.78,4.79,4.83,4.82,4.84,4.82,4.78,4.74,4.70,4.73,4.28,4.35,4.38,4.24,4.18,4.41,4.43,4.45,4.48,4.50,4.52,4.54,4.56,4.49,4.50,4.51,4.50,4.69,4.67,4.65,4.62,4.63,4.58,4.56,4.55,4.52,4.51,4.52,4.48,4.45,4.44,4.42,4.47,4.43,4.41,4.39,4.39,4.34,4.34,4.35,4.32,4.31,4.29,4.27,4.25,4.22,4.21,4.22,4.21,4.25,4.19,4.15,4.20,4.09,4.06,4.06,4.04,4.04,4.38,4.10];
const filledSparseY=[7.905,7.85,7.85,7.81,7.775,7.76,7.76,7.73,7.72,7.71,7.715,7.705,7.69,7.675,7.65,7.635,7.615,7.63,7.615,7.60,7.58,7.555,7.53,7.59,7.59,7.57,7.57,7.58,7.58,7.575,7.55,7.55,7.54,7.54,7.53,7.54,7.535,7.535,7.545,7.535,7.525,7.525,7.52,7.52,7.52,7.51,7.505,7.50,7.51,7.51,7.515,7.505,7.51,7.50,7.49,7.49,7.495,7.485,7.47,7.47,7.48,7.455,7.455,7.45,7.445,7.455,7.445,7.455,7.455,7.455,7.465,7.435,7.44,7.425,7.42,7.455,7.45,7.455,7.455,7.435,7.43,7.415,7.41,7.41,7.395,7.39,7.39,7.385,7.37,7.37,7.36,7.355,7.345,7.365,7.375,7.365,7.375,7.365,7.35,7.355,7.345,7.34,7.345,7.33,7.33,7.335,7.335,7.34,7.33,7.32,7.32,7.31,7.305,7.305,7.305,7.315,7.31,7.32,7.29,7.285,7.295,7.295,7.30,7.31,7.32,7.31,7.31,7.305,7.30,7.285,7.285,7.295,7.305,7.31,7.32,7.33,7.27,7.23,7.21,7.155,7.065,7.34,7.36,7.365,7.35,7.34,7.38,7.39,7.395,7.375,7.39,7.41,7.43,7.395,7.37,7.415,7.455,7.455,7.44,7.43,7.43,7.425,7.41,7.41,7.39,7.375,7.42,7.415,7.365,7.355,7.33,7.445,7.455,7.475,7.22,7.195,7.18,7.195,7.175,7.17,7.17,7.25,7.24,7.27,7.25,7.23,7.22,7.21,7.22,7.21,7.20,7.195,7.14,7.155,7.125,7.11,7.115,7.11,7.115,7.09,7.08,7.075,7.075,7.075,7.06,7.055,7.045,7.04,7.045,7.06,7.02,7.06,7.065,7.09,7.015,6.96,7.11,7.115,7.11,7.185,7.20,7.195,7.19,7.20,7.17,7.17,7.17,7.15,6.89,6.915,6.925,6.905,6.955,6.925,6.93,6.91,6.89,6.895,6.905,6.775,6.78,6.76,6.76,6.81,6.815,6.795,6.77,6.76,6.77,6.765,6.72,6.735,6.725,6.725,6.675,6.67,6.68,6.66,6.645,6.62,6.595,6.57,6.585,6.53,6.58,6.57,6.55,6.59,6.57,6.49,6.57];
// Fit lines, read at their visible ends and bends
const lineOpenX=[3.417,3.9455,4.58,5.07,5.40];
const lineOpenY=[0.11574,0.11867,0.12223,0.12499,0.12689];
const lineFilledX=[3.40,4.0,4.75,4.92,5.252,5.40];
const lineFilledY=[6.233,6.66,7.195,7.316,7.558,7.663];
const xMajor=[3.5,4,4.5,5,5.5];
const xMinor=[3.4,3.6,3.7,3.8,3.9,4.1,4.2,4.3,4.4,4.6,4.7,4.8,4.9,5.1,5.2,5.3,5.4];
const leftMajor=[0.09,0.1,0.11,0.12,0.13];
const leftMinor=[0.0925,0.095,0.0975,0.1025,0.105,0.1075,0.1125,0.115,0.1175,0.1225,0.125,0.1275];
const rightMajor=[6,7,8];
const rightMinor=[6.1,6.2,6.3,6.4,6.5,6.6,6.7,6.8,6.9,7.1,7.2,7.3,7.4,7.5,7.6,7.7,7.8,7.9];

const svg=d3.select("#c");
const x=d3.scaleLinear().domain([3.4,5.5]).range([199.5,1357]);
const yL=d3.scaleLinear().domain([0.09,0.13]).range([1185.5,27]);
const yR=d3.scaleLinear().domain([6,8]).range([1185.5,27]);
const ink="#1a1a1a";

const openPts=[];
for(const r of [...openRows35,...openRows40,...openRows45,...openExtra]) for(const v of r.slice(1)) openPts.push([r[0]/100,v/10000]);
openSparseX.forEach((a,i)=>openPts.push([a,openSparseY[i]/10000]));
const filledPts=[];
for(const r of [...filledRows35,...filledRows40,...filledExtra]) for(const v of r.slice(1)) filledPts.push([r[0]/100,v/100]);
filledSparseX.forEach((a,i)=>filledPts.push([a,filledSparseY[i]]));

svg.append("g").selectAll("circle").data(openPts).join("circle")
 .attr("cx",d=>x(d[0])).attr("cy",d=>yL(d[1])).attr("r",3.2)
 .attr("fill","none").attr("stroke","#000").attr("stroke-width",1.15);
svg.append("g").selectAll("circle").data(filledPts).join("circle")
 .attr("cx",d=>x(d[0])).attr("cy",d=>yR(d[1])).attr("r",3.8).attr("fill","#000");

const lineL=d3.line().x(d=>x(d[0])).y(d=>yL(d[1]));
const lineR=d3.line().x(d=>x(d[0])).y(d=>yR(d[1]));
svg.append("path").attr("d",lineL(lineOpenX.map((a,i)=>[a,lineOpenY[i]]))).attr("fill","none").attr("stroke","#000").attr("stroke-width",3.2);
svg.append("path").attr("d",lineR(lineFilledX.map((a,i)=>[a,lineFilledY[i]]))).attr("fill","none").attr("stroke","#000").attr("stroke-width",3.2);

function ax(gen,tx,ty,w){
 const g=svg.append("g").attr("transform",`translate(${tx},${ty})`).call(gen);
 g.selectAll("line").attr("stroke",ink).attr("stroke-width",w);
 g.selectAll(".domain").attr("stroke",ink).attr("stroke-width",w);
 g.selectAll("text").remove();
 return g;
}
ax(d3.axisLeft(yL).tickValues(leftMajor).tickSize(40).tickSizeOuter(0).tickFormat(""),199.5,0,2);
ax(d3.axisLeft(yL).tickValues(leftMinor).tickSize(20).tickSizeOuter(0).tickFormat(""),199.5,0,2);
ax(d3.axisRight(yR).tickValues(rightMajor).tickSize(40).tickSizeOuter(0).tickFormat(""),1357,0,2.6);
ax(d3.axisRight(yR).tickValues(rightMinor).tickSize(21).tickSizeOuter(0).tickFormat(""),1357,0,2.2);
ax(d3.axisBottom(x).tickValues(xMajor).tickSize(40).tickSizeOuter(0).tickFormat(""),0,1185.5,2);
ax(d3.axisBottom(x).tickValues(xMinor).tickSize(20).tickSizeOuter(0).tickFormat(""),0,1185.5,2);
ax(d3.axisTop(x).tickValues([]).tickSizeOuter(0),0,27,2.2);

const serif="'Liberation Serif',serif", sans="'Liberation Sans',sans-serif";
const lab=(t,px,py,a)=>svg.append("text").attr("x",px).attr("y",py).attr("text-anchor",a).attr("font-family",serif).attr("font-weight","700").attr("font-size",36).attr("fill","#111").text(t);
leftMajor.forEach(v=>lab(String(v),139,yL(v)+13,"end"));
rightMajor.forEach(v=>lab(String(v),1415,yR(v)+13,"start"));
xMajor.forEach(v=>lab(String(v),x(v),1277,"middle"));

function title(parent,parts,fam,size){
 const t=parent.append("text").attr("font-family",fam).attr("font-weight","700").attr("font-size",size).attr("fill","#111");
 parts.forEach(p=>{
  const s=t.append("tspan").text(p.t);
  if(p.dy) s.attr("dy",p.dy);
  if(p.fs) s.attr("font-size",p.fs);
  if(p.w) s.attr("font-weight",p.w);
  if(p.f) s.attr("fill",p.f);
 });
 return t;
}
title(svg.append("g").attr("transform","translate(667,1323)"),[
 {t:"N"},{t:"Lα",fs:18,dy:7,w:400,f:"#444"},{t:",10",dy:-7},{t:"15",fs:22,dy:-12},{t:" m",dy:12},{t:"-2",fs:22,dy:-12},{t:"s",dy:12},{t:"-1",fs:22,dy:-12}
],sans,36);
title(svg.append("g").attr("transform","translate(52,745) rotate(-90)"),[
 {t:"N"},{t:"130",fs:22,dy:7,w:400},{t:",10",dy:-7},{t:"15",fs:22,dy:-14,w:400},{t:"m",dy:14},{t:"−2",fs:22,dy:-14,w:400},{t:"s",dy:14},{t:"−1",fs:22,dy:-14,w:400}
],"'DejaVu Serif',serif",33);
title(svg.append("g").attr("transform","translate(1483,747) rotate(-90)"),[
 {t:"N"},{t:"200",fs:26,dy:9,w:400},{t:", ",dy:-9},{t:"10"},{t:"15",fs:26,dy:-16,w:400},{t:"m",dy:16},{t:"-2",fs:26,dy:-16,w:400},{t:"s",dy:16},{t:"-1",fs:26,dy:-16,w:400}
],sans,41);
</script></body></html>
